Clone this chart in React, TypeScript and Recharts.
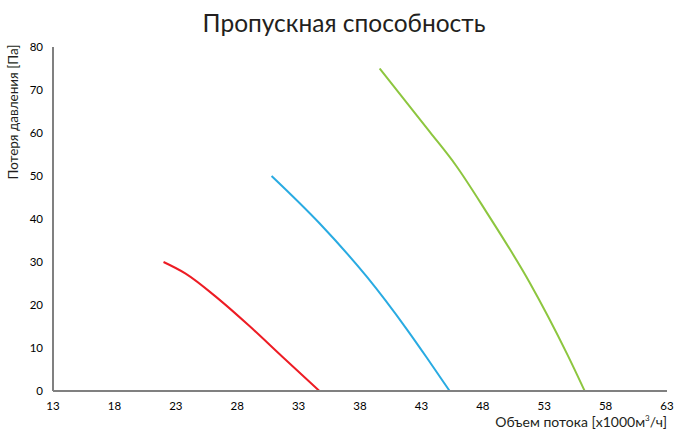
import { LineChart, Line, XAxis, YAxis } from 'recharts';

// кривые пропускной способности (x — объем потока, y — потеря давления)
const redX = [22.0, 23.8, 26.4, 29.0, 31.7, 34.7];
const redY = [30, 27.3, 21.6, 15.1, 7.9, 0];

const blueX = [30.8, 34.7, 38.6, 41.8, 43.5, 45.3];
const blueY = [50, 39.0, 26.4, 14.4, 7.5, 0];

const greenX = [39.6, 43.7, 45.8, 48.3, 51.8, 54.9, 56.3];
const greenY = [75, 60.2, 52.5, 41.6, 25.3, 8.4, 0];

const xTicks = [13, 18, 23, 28, 33, 38, 43, 48, 53, 58, 63];
const yTicks = [0, 10, 20, 30, 40, 50, 60, 70, 80];

const toPoints = (xs: number[], ys: number[]) => xs.map((x, i) => ({ x, y: ys[i] }));

const redData = toPoints(redX, redY);
const blueData = toPoints(blueX, blueY);
const greenData = toPoints(greenX, greenY);

const font = 'Lato, "DejaVu Sans", sans-serif';

export default function App() {
  return (
    <div style={{ position: 'absolute', left: 0, top: 0, width: 674, height: 432, background: '#fff', fontFamily: font }}>
      <div style={{ position: 'absolute', top: 8, left: 0, width: 688, textAlign: 'center', fontSize: 24.5, color: '#231f20' }}>
        Пропускная способность
      </div>
      <div
        style={{
          position: 'absolute',
          left: 13,
          top: 112,
          fontSize: 13.5,
          color: '#231f20',
          whiteSpace: 'nowrap',
          transform: 'translate(-50%, -50%) rotate(-90deg)',
        }}
      >
        Потеря давления [Па]
      </div>
      <div style={{ position: 'absolute', right: 7, top: 413, fontSize: 14, color: '#231f20', whiteSpace: 'nowrap' }}>
        Объем потока [x1000м<sup style={{ fontSize: 8 }}>3</sup>/ч]
      </div>
      <LineChart width={674} height={432} margin={{ top: 47, right: 7, left: 23, bottom: 11 }}>
        <XAxis
          type="number"
          dataKey="x"
          domain={[13, 63]}
          ticks={xTicks}
          allowDuplicatedCategory={false}
          height={30}
          tickLine={false}
          tickSize={0}
          tickMargin={11}
          axisLine={{ stroke: '#808080', strokeWidth: 2 }}
          tick={{ fontSize: 11.5, fill: '#000', fontFamily: font }}
        />
        <YAxis
          type="number"
          dataKey="y"
          domain={[0, 80]}
          ticks={yTicks}
          width={30}
          tickLine={false}
          tickSize={0}
          tickMargin={10}
          axisLine={{ stroke: '#808080', strokeWidth: 2 }}
          tick={{ fontSize: 11.5, fill: '#000', fontFamily: font }}
        />
        <Line data={redData} dataKey="y" type="monotone" stroke="#ed1c24" strokeWidth={2} dot={false} isAnimationActive={false} />
        <Line data={blueData} dataKey="y" type="monotone" stroke="#29abe2" strokeWidth={2} dot={false} isAnimationActive={false} />
        <Line data={greenData} dataKey="y" type="monotone" stroke="#8dc63f" strokeWidth={2} dot={false} isAnimationActive={false} />
      </LineChart>
    </div>
  );
}
